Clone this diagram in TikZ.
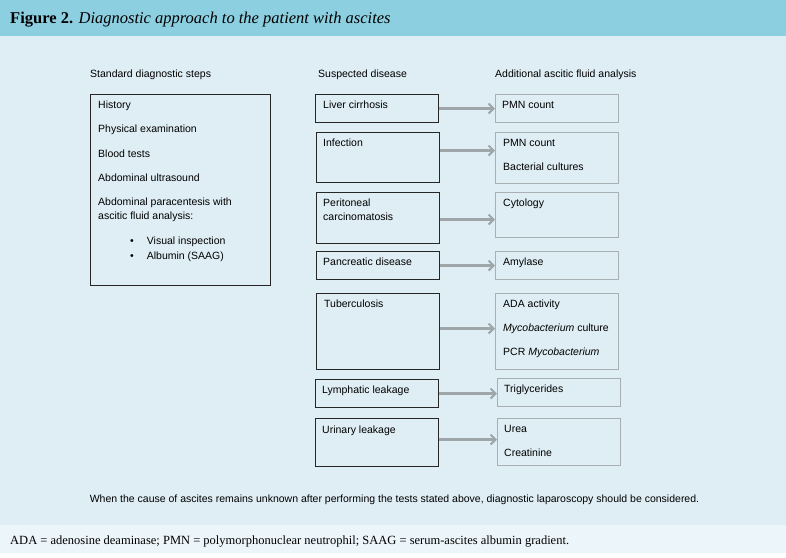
\documentclass[tikz,border=0pt]{standalone}
\usepackage{fontspec}
\setmainfont{Liberation Serif}
\setsansfont{Liberation Sans}
\usetikzlibrary{arrows.meta,positioning}
\definecolor{bandblue}{HTML}{8CCFE0}
\definecolor{panelblue}{HTML}{DFEEF5}
\definecolor{notepale}{HTML}{ECF5F9}
\definecolor{arrowgray}{HTML}{9EA6A9}
\definecolor{boxgray}{HTML}{A9B0B3}
\tikzset{
  sans/.style={font=\sffamily\fontsize{10.5}{12}\selectfont, inner sep=0pt},
  lbl/.style={sans, anchor=base west},
  dbox/.style={draw=black!85, line width=1.1pt, minimum width=123pt, anchor=north west, inner sep=0pt},
  tbox/.style={draw=boxgray, line width=1.1pt, minimum width=123pt, anchor=north west, inner sep=0pt},
  arr/.style={draw=arrowgray, line width=2.2pt, -{Straight Barb[length=5pt,width=10pt,line width=2pt]}}
}
\begin{document}
\begin{tikzpicture}[x=1pt, y=-1pt]
\useasboundingbox (0,0) rectangle (786,557);

% backgrounds
\fill[bandblue] (0,0) rectangle (786,36);
\fill[panelblue] (0,36) rectangle (786,525);
\fill[notepale] (0,525) rectangle (786,553);

\node[anchor=base west, inner sep=0pt, font=\fontsize{16.5}{19}\selectfont] (title) at (10,23)
  {\textbf{Figure 2.} \textit{Diagnostic approach to the patient with ascites}};

% column heads
\node[lbl] (headA) at (90,77) {Standard diagnostic steps};
\node[lbl] (headB) at (318,77) {Suspected disease};
\node[lbl] (headC) at (495,77) {Additional ascitic fluid analysis};

% standard steps
\node[dbox, minimum width=180pt, minimum height=191pt] (steps) at (90,94) {};
\node[lbl] (hist) at (98,108) {History};
\node[lbl] (phys) at (98,132) {Physical examination};
\node[lbl] (blood) at (98,157) {Blood tests};
\node[lbl] (us) at (98,181) {Abdominal ultrasound};
\node[lbl] (para) at (98,205) {Abdominal paracentesis with};
\node[lbl] (paraB) at (98,219) {ascitic fluid analysis:};
\node[lbl] (vis) at (130,244) {\textbullet\hspace{13pt}Visual inspection};
\node[lbl] (alb) at (130,259) {\textbullet\hspace{13pt}Albumin (SAAG)};

% suspected disease
\node[dbox, minimum height=28pt] (cirr) at (315,94) {};
\node[dbox, minimum height=50pt] (inf) at (316,132) {};
\node[dbox, minimum height=51pt] (perit) at (316,192) {};
\node[dbox, minimum height=28pt] (panc) at (316,251) {};
\node[dbox, minimum height=76pt] (tb) at (316,293) {};
\node[dbox, minimum height=28pt] (lymph) at (315,379) {};
\node[dbox, minimum height=48pt] (urin) at (315,418) {};

\node[lbl] (cirrT) at (323,108) {Liver cirrhosis};
\node[lbl] (infT) at (323,146) {Infection};
\node[lbl] (peritT) at (323,206) {Peritoneal};
\node[lbl] (peritB) at (323,220) {carcinomatosis};
\node[lbl] (pancT) at (323,265) {Pancreatic disease};
\node[lbl] (tbT) at (324,307) {Tuberculosis};
\node[lbl] (lymphT) at (322,393) {Lymphatic leakage};
\node[lbl] (urinT) at (322,433) {Urinary leakage};

% additional analysis
\node[tbox, minimum height=28pt] (pmn) at (495,94) {};
\node[tbox, minimum height=51pt] (bact) at (495,132) {};
\node[tbox, minimum height=45pt] (cyto) at (495,192) {};
\node[tbox, minimum height=28pt] (amyl) at (495,251) {};
\node[tbox, minimum height=76pt] (ada) at (495,293) {};
\node[tbox, minimum height=28pt] (trig) at (497,378) {};
\node[tbox, minimum height=47pt] (urea) at (497,418) {};

\node[lbl] (pmnT) at (502,108) {PMN count};
\node[lbl] (bactT) at (503,146) {PMN count};
\node[lbl] (bactB) at (503,170) {Bacterial cultures};
\node[lbl] (cytoT) at (503,206) {Cytology};
\node[lbl] (amylT) at (503,265) {Amylase};
\node[lbl] (adaT) at (503,307) {ADA activity};
\node[lbl] (adaB) at (503,331) {\textit{Mycobacterium} culture};
\node[lbl] (adaC) at (503,355) {PCR \textit{Mycobacterium}};
\node[lbl] (trigT) at (504,392) {Triglycerides};
\node[lbl] (ureaT) at (504,432) {Urea};
\node[lbl] (ureaB) at (504,456) {Creatinine};

% arrows
\draw[arr] (cirr.east) -- (cirr.east -| pmn.west);
\draw[arr] ([yshift=7pt]inf.east) -- ([yshift=7pt]inf.east -| bact.west);
\draw[arr] ([yshift=-1.5pt]perit.east) -- ([yshift=-1.5pt]perit.east -| cyto.west);
\draw[arr] (panc.east) -- (panc.east -| amyl.west);
\draw[arr] ([yshift=3pt]tb.east) -- ([yshift=3pt]tb.east -| ada.west);
\draw[arr] (lymph.east) -- (lymph.east -| trig.west);
\draw[arr] ([yshift=3pt]urin.east) -- ([yshift=3pt]urin.east -| urea.west);

% notes
\node[sans, anchor=base] (lap) at (394.5,502)
  {When the cause of ascites remains unknown after performing the tests stated above, diagnostic laparoscopy should be considered.};
\node[anchor=base west, inner sep=0pt, font=\fontsize{12.5}{15}\selectfont] (abbr) at (10,544)
  {ADA = adenosine deaminase; PMN = polymorphonuclear neutrophil; SAAG = serum-ascites albumin gradient.};
\end{tikzpicture}
\end{document}
